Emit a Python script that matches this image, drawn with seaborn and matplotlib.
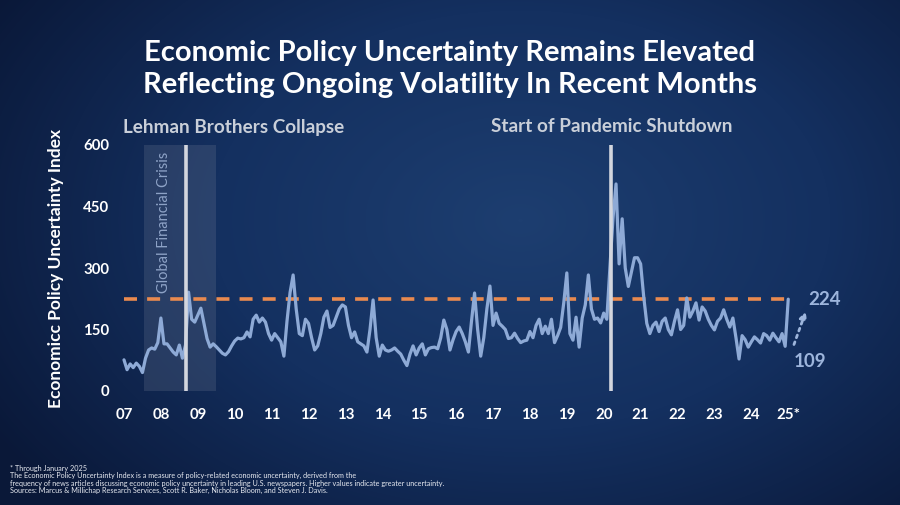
import numpy as np
import matplotlib
matplotlib.use("Agg")
import matplotlib.pyplot as plt
import seaborn as sns
from matplotlib.colors import LinearSegmentedColormap

# ---------------- data (monthly EPU index, Jan 2007 - Jan 2025) ----------------
v2007 = [76, 52, 66, 57, 68, 60, 45, 80, 100, 105, 102, 118]
v2008 = [178, 115, 115, 105, 95, 88, 112, 80, 112, 241, 175, 168]
v2009 = [185, 202, 165, 128, 107, 115, 108, 100, 92, 88, 96, 110]
v2010 = [122, 129, 127, 130, 144, 132, 175, 185, 168, 178, 168, 140]
v2011 = [124, 140, 130, 120, 85, 170, 240, 283, 200, 140, 135, 175]
v2012 = [165, 130, 100, 110, 140, 180, 195, 155, 160, 180, 200, 210]
v2013 = [205, 160, 130, 144, 120, 115, 110, 95, 150, 222, 130, 85]
v2014 = [112, 100, 97, 100, 105, 97, 90, 75, 62, 90, 110, 88]
v2015 = [105, 115, 88, 103, 106, 107, 103, 130, 173, 150, 100, 125]
v2016 = [145, 156, 140, 120, 95, 170, 239, 150, 85, 130, 200, 256]
v2017 = [160, 190, 165, 158, 150, 128, 130, 141, 128, 118, 122, 124]
v2018 = [145, 130, 160, 175, 140, 158, 140, 175, 118, 135, 155, 215]
v2019 = [288, 140, 124, 180, 107, 178, 210, 283, 200, 175, 178, 166]
v2020 = [190, 175, 300, 420, 505, 310, 420, 300, 255, 290, 325, 325]
v2021 = [310, 230, 165, 140, 160, 168, 145, 170, 178, 150, 137, 170]
v2022 = [198, 150, 160, 227, 180, 195, 215, 173, 205, 195, 175, 160]
v2023 = [149, 170, 178, 198, 175, 156, 178, 130, 78, 135, 125, 107]
v2024 = [120, 132, 125, 117, 140, 135, 124, 141, 130, 120, 140, 109]
v2025 = [224]

epu_values = (v2007 + v2008 + v2009 + v2010 + v2011 + v2012 + v2013 + v2014
              + v2015 + v2016 + v2017 + v2018 + v2019 + v2020 + v2021 + v2022
              + v2023 + v2024 + v2025)
start_year = 2007
year_ticks = list(range(2007, 2026))
year_labels = ["07", "08", "09", "10", "11", "12", "13", "14", "15", "16",
               "17", "18", "19", "20", "21", "22", "23", "24", "25*"]
y_ticks = [0, 150, 300, 450, 600]
gfc_span = (2007.54, 2009.5)
lehman_x = 2008.68
pandemic_x = 2020.2
ref_level = 224
last_value = 224
prev_value = 109

title = ("Economic Policy Uncertainty Remains Elevated\n"
         "Reflecting Ongoing Volatility In Recent Months")
footnotes = [
    "* Through January 2025",
    "The Economic Policy Uncertainty Index is a measure of policy-related economic uncertainty, derived from the",
    "frequency of news articles discussing economic policy uncertainty in leading U.S. newspapers. Higher values indicate greater uncertainty.",
    "Sources: Marcus & Millichap Research Services, Scott R. Baker, Nicholas Bloom, and Steven J. Davis.",
]

# ---------------- styling ----------------
sns.set_style("white")
plt.rcParams["font.family"] = ["Lato", "DejaVu Sans"]

W, H = 900, 505
fig = plt.figure(figsize=(W / 100, H / 100), dpi=100)

def fx(px):
    return px / W

def fy(py):
    return 1 - py / H

# background gradient
bg = fig.add_axes([0, 0, 1, 1], zorder=0)
yy, xx = np.mgrid[0:H, 0:W]
d = np.sqrt(((xx - 520) / 620.0) ** 2 + ((yy - 220) / 420.0) ** 2)
d = np.clip(d, 0, 1)
cmap = LinearSegmentedColormap.from_list("bgc", ["#1d3e70", "#143060", "#0a1838"])
bg.imshow(d, cmap=cmap, extent=[0, 1, 0, 1], aspect="auto", origin="upper",
          interpolation="bilinear")
bg.axis("off")

# main axes
left_px, right_px = 120.3, 803.0
top_px, bot_px = 145.0, 391.0
ax = fig.add_axes([fx(left_px), fy(bot_px), fx(right_px - left_px),
                   (bot_px - top_px) / H], zorder=2)
ax.patch.set_alpha(0)

months = start_year + np.arange(len(epu_values)) / 12.0

ax.axvspan(gfc_span[0], gfc_span[1], color="#7d869c", alpha=0.22, lw=0, zorder=1)
ax.hlines(ref_level, start_year, months[-1], colors="#e98a4f", linestyles=(0, (3.6, 2.8)),
          lw=2.6, zorder=2)
sns.lineplot(x=months, y=epu_values, ax=ax, color="#8eaad6", lw=2.3, zorder=3)
for ln in ax.get_lines():
    ln.set_solid_joinstyle("round")
ax.axvline(lehman_x, color="#d3d6de", lw=2.6, zorder=4)
ax.axvline(pandemic_x, color="#d3d6de", lw=2.6, zorder=4)

ax.set_xlim(2006.9, 2025.4)
ax.set_ylim(0, 600)
ax.set_xticks(year_ticks)
ax.set_xticklabels(year_labels)
ax.set_yticks(y_ticks)
ax.set_yticklabels([str(t) for t in y_ticks])
ax.tick_params(axis="both", length=0, colors="white", labelsize=10.8)
ax.tick_params(axis="x", pad=12)
ax.tick_params(axis="y", pad=8)
for lab in ax.get_xticklabels() + ax.get_yticklabels():
    lab.set_fontweight("bold")
for s in ax.spines.values():
    s.set_visible(False)
ax.set_xlabel("")
ax.set_ylabel("Economicc Policy Uncertainty Index", color="white", fontsize=12.5,
              fontweight="bold", labelpad=14)

# annotations
ax.text(2008.08, 412, "Global Financial Crisis", rotation=90, ha="center", va="center",
        color="#8ea3c7", fontsize=10.5, zorder=5)
ax.text(2025.54, last_value, str(last_value), ha="left", va="center", color="#9db5dc",
        fontsize=13.5, fontweight="bold", clip_on=False)
ax.text(2025.59, 72, str(prev_value), ha="center", va="center", color="#9db5dc",
        fontsize=13.5, fontweight="bold", clip_on=False)
ax.annotate("", xy=(2025.5, 200), xytext=(2025.13, 107),
            arrowprops=dict(arrowstyle="-|>", color="#9db5dc", lw=2.0,
                            linestyle=(0, (1, 1.6)), mutation_scale=10),
            annotation_clip=False)

# headers
fig.text(fx(234), fy(127), "Lehman Brothers Collapse", ha="center", va="center",
         color="#c9cfd9", fontsize=13.6, fontweight="bold")
fig.text(fx(612), fy(127), "Start of Pandemic Shutdown", ha="center", va="center",
         color="#c9cfd9", fontsize=13.6, fontweight="bold")

fig.text(0.5, fy(69), title, ha="center", va="center", color="white",
         fontsize=21, fontweight="bold", linespacing=1.3)

for i, line in enumerate(footnotes):
    fig.text(fx(10), fy(468 + i * 7.6), line, ha="left", va="center",
             color="#e6e9f0", fontsize=5.2)

fig.savefig("out.png", dpi=100)
